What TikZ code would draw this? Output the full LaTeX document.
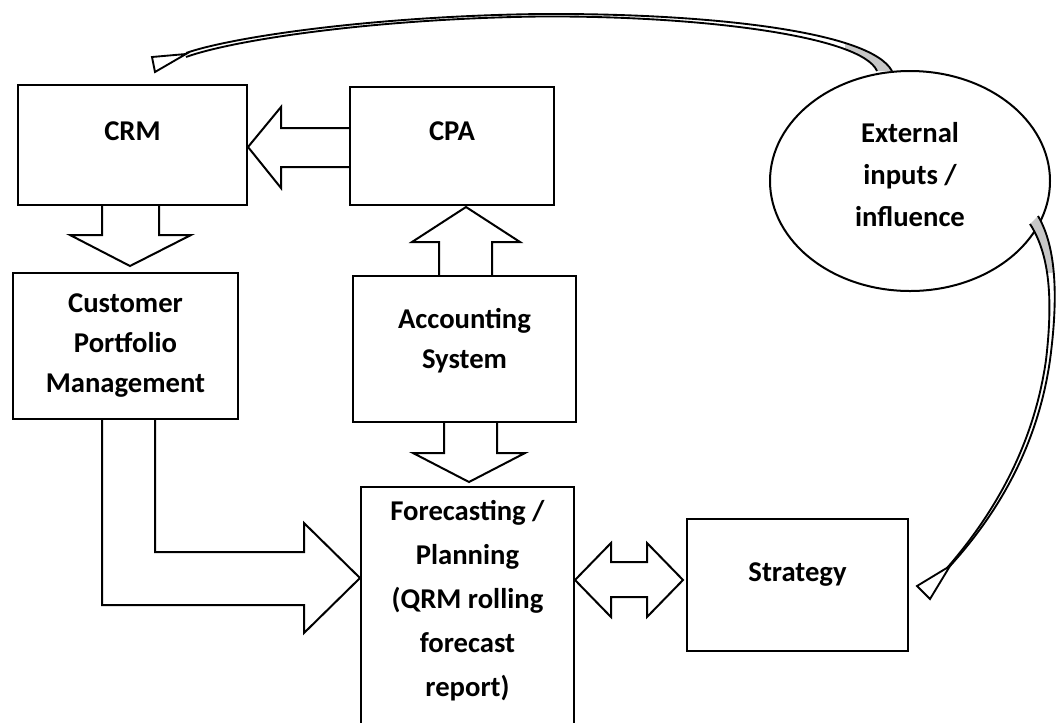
\documentclass[tikz,border=0pt]{standalone}
\usepackage{fontspec}
\setmainfont{Carlito}
\usetikzlibrary{shapes.geometric,calc}
\begin{document}
\begin{tikzpicture}[x=0.75pt,y=-0.75pt,
  every node/.style={font=\fontsize{21.5}{30}\selectfont\bfseries},
  box/.style={draw, line width=1.5pt, rectangle, inner sep=0pt, align=flush center, anchor=north west},
  blk/.style={draw, line width=1.5pt, line join=miter},
  band/.style={line width=1.4pt},
  bandfill/.style={fill=black!22}
]
\useasboundingbox (0,0) rectangle (1056,722);
\clip (0,0) rectangle (1056,722);

% boxes
\node[box, text width=171.75pt, text height=41.25pt, text depth=48.75pt] (crm) at (17,84) {CRM};
\node[box, text width=153pt, text height=39.75pt, text depth=48.75pt] (cpa) at (349,86) {CPA};
\node[box, text width=168.75pt, text height=29.25pt, text depth=80.25pt] (cpm) at (12,272) {Customer\\Portfolio\\Management};
\node[box, text width=167.25pt, text height=39pt, text depth=70.5pt] (acc) at (352,275) {Accounting\\System};
\node[box, text width=159.75pt, text height=24.75pt, text depth=180.75pt,
      font=\fontsize{21.5}{33}\selectfont\bfseries] (fc) at (360,486)
      {Forecasting /\\Planning\\(QRM rolling\\forecast\\report)};
\node[box, text width=165.75pt, text height=46.5pt, text depth=52.5pt] (str) at (686,518) {Strategy};
\node[draw, ellipse, line width=1.5pt, minimum width=210pt, minimum height=165pt, inner sep=0pt,
      align=flush center, text width=130pt, text height=15pt, text depth=73.5pt,
      font=\fontsize{21.5}{31.5}\selectfont\bfseries] (ext) at (910,181)
      {External\\inputs /\\influence};

% block arrows
\draw[blk] (cpa.west |- 0,128) -- (281,128) -- (281,107) -- (crm.east |- 0,147)
           -- (281,188) -- (281,167) -- (cpa.west |- 0,167);
\draw[blk] (439,0 |- acc.north) -- (439,242) -- (412,242) -- (466,207)
           -- (520,242) -- (492,242) -- (492,0 |- acc.north);
\draw[blk] (102,0 |- crm.south) -- (102,235) -- (70,235) -- (130,266)
           -- (191,235) -- (159,235) -- (159,0 |- crm.south);
\draw[blk] (444,0 |- acc.south) -- (444,453) -- (413,453) -- (469,482)
           -- (525,453) -- (497,453) -- (497,0 |- acc.south);
\draw[blk] (102,0 |- cpm.south) -- (102,605) -- (304,605) -- (304,633)
           -- (fc.west |- 0,578) -- (304,523) -- (304,552) -- (155,552) -- (155,0 |- cpm.south);
\draw[blk] (fc.east |- 0,580) -- (611,543) -- (611,562) -- (647,562) -- (647,543)
           -- (683,580) -- (647,617) -- (647,597) -- (611,597) -- (611,617) -- cycle;

% curved arrow: external -> CRM
\coordinate (ta) at (892,71);
\coordinate (tb) at (877,71);
\begin{scope}
  \clip (845,0) rectangle (1000,100);
  \fill[bandfill] (ta) .. controls (870,30) and (700,13) .. (540,14) -- (540,16.5)
       .. controls (700,15.5) and (862,36) .. (tb) -- cycle;
\end{scope}
\draw[band] (ta) .. controls (870,30) and (700,13) .. (540,14) .. controls (380,16) and (235,36) .. (186,53);
\draw[band] (tb) .. controls (862,36) and (700,15.5) .. (540,16.5) .. controls (380,18.5) and (236,39) .. (186,57);
\draw[band, line join=miter] (152,57) -- (186,54) -- (155,72) -- cycle;

% curved arrow: external -> strategy
\coordinate (ra) at (1038,216);
\coordinate (rb) at (1030,224);
\begin{scope}
  \clip (990,200) rectangle (1060,272);
  \fill[bandfill] (ra) .. controls (1057,248) and (1058,300) .. (1050,360) -- (1046,360)
       .. controls (1053,300) and (1050,255) .. (rb) -- cycle;
\end{scope}
\draw[band] (ra) .. controls (1057,248) and (1058,300) .. (1050,360) .. controls (1040,430) and (1010,500) .. (950,566);
\draw[band] (rb) .. controls (1050,255) and (1053,300) .. (1046,360) .. controls (1036,430) and (1006,500) .. (947,568);
\draw[band, line join=miter] (917,586) -- (950,566) -- (930,599) -- cycle;
\end{tikzpicture}
\end{document}
